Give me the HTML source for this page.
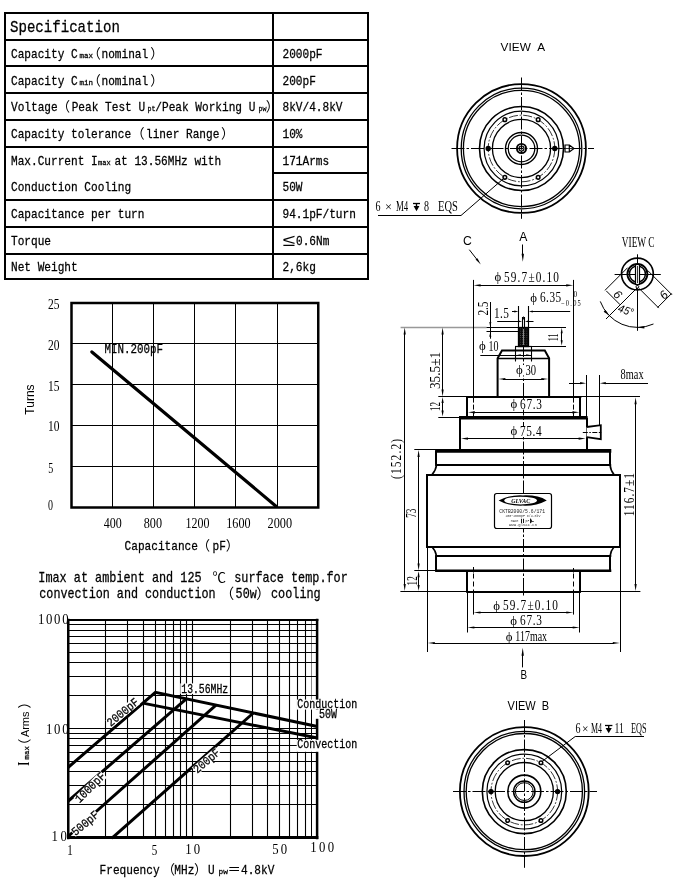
<!DOCTYPE html>
<html><head><meta charset="utf-8"><title>Specification</title>
<style>
html,body{margin:0;padding:0;background:#fff;}
svg{display:block;}
text{fill:#000;white-space:pre;}
.m{stroke:#000;stroke-width:0.28px;}
.m{font-family:"Liberation Mono","Noto Sans CJK SC",monospace;}
.k{font-family:"Liberation Sans","Noto Sans CJK SC",sans-serif;}
.s{font-family:"Liberation Serif","Noto Serif CJK SC",serif;}
.si{font-family:"Liberation Serif",serif;font-style:italic;font-weight:bold;}
.i{font-family:"Liberation Sans",sans-serif;font-style:italic;}
.a{font-family:"Liberation Sans",sans-serif;}
</style></head><body>
<svg width="700" height="885" viewBox="0 0 700 885" style="will-change:transform">

<g id="table">
<rect x="5" y="13" width="363" height="266" fill="none" stroke="#000" stroke-width="2" />
<line x1="5" y1="40" x2="368" y2="40" stroke="#000" stroke-width="2" />
<line x1="5" y1="66" x2="368" y2="66" stroke="#000" stroke-width="2" />
<line x1="5" y1="93" x2="368" y2="93" stroke="#000" stroke-width="2" />
<line x1="5" y1="120" x2="368" y2="120" stroke="#000" stroke-width="2" />
<line x1="5" y1="147" x2="368" y2="147" stroke="#000" stroke-width="2" />
<line x1="5" y1="200" x2="368" y2="200" stroke="#000" stroke-width="2" />
<line x1="5" y1="227" x2="368" y2="227" stroke="#000" stroke-width="2" />
<line x1="5" y1="254" x2="368" y2="254" stroke="#000" stroke-width="2" />
<line x1="273" y1="173" x2="368" y2="173" stroke="#000" stroke-width="2" />
<line x1="273" y1="13" x2="273" y2="279.2" stroke="#000" stroke-width="2" />
<text x="10" y="32" class="m" font-size="17" textLength="109.85" lengthAdjust="spacingAndGlyphs" >Specification</text>
<text x="11" y="58" class="m" font-size="13.33" textLength="66.7" lengthAdjust="spacingAndGlyphs" >Capacity C</text>
<text x="79.6" y="58" class="m" font-size="8" textLength="13.5" lengthAdjust="spacingAndGlyphs" >max</text>
<text x="87.44" y="58" class="k" font-size="13.33" >（</text>
<text x="101.5" y="58" class="m" font-size="13.33" textLength="46.69" lengthAdjust="spacingAndGlyphs" >nominal</text>
<text x="150.27" y="58" class="k" font-size="13.33" >）</text>
<text x="11" y="84.6" class="m" font-size="13.33" textLength="66.7" lengthAdjust="spacingAndGlyphs" >Capacity C</text>
<text x="79.6" y="84.6" class="m" font-size="8" textLength="13.5" lengthAdjust="spacingAndGlyphs" >min</text>
<text x="87.44" y="84.6" class="k" font-size="13.33" >（</text>
<text x="101.5" y="84.6" class="m" font-size="13.33" textLength="46.69" lengthAdjust="spacingAndGlyphs" >nominal</text>
<text x="150.27" y="84.6" class="k" font-size="13.33" >）</text>
<text x="11" y="111.2" class="m" font-size="13.33" textLength="46.69" lengthAdjust="spacingAndGlyphs" >Voltage</text>
<text x="56.74" y="111.2" class="k" font-size="13.33" >（</text>
<text x="71.7" y="111.2" class="m" font-size="13.33" textLength="73.37" lengthAdjust="spacingAndGlyphs" >Peak Test U</text>
<text x="147.5" y="111.2" class="m" font-size="8" textLength="8" lengthAdjust="spacingAndGlyphs" >pt</text>
<text x="155.3" y="111.2" class="m" font-size="13.33" textLength="100.05" lengthAdjust="spacingAndGlyphs" >/Peak Working U</text>
<text x="258.4" y="111.2" class="m" font-size="8" textLength="8" lengthAdjust="spacingAndGlyphs" >pw</text>
<text x="265.67" y="111.2" class="k" font-size="13.33" >）</text>
<text x="11" y="138" class="m" font-size="13.33" textLength="120.06" lengthAdjust="spacingAndGlyphs" >Capacity tolerance</text>
<text x="131.14" y="138" class="k" font-size="13.33" >（</text>
<text x="146" y="138" class="m" font-size="13.33" textLength="73.37" lengthAdjust="spacingAndGlyphs" >liner Range</text>
<text x="221.07" y="138" class="k" font-size="13.33" >）</text>
<text x="11" y="164.6" class="m" font-size="13.33" textLength="86.71" lengthAdjust="spacingAndGlyphs" >Max.Current I</text>
<text x="98" y="164.6" class="m" font-size="8" textLength="12.6" lengthAdjust="spacingAndGlyphs" >max</text>
<text x="114.4" y="164.6" class="m" font-size="13.33" textLength="106.72" lengthAdjust="spacingAndGlyphs" >at 13.56MHz with</text>
<text x="11" y="191.2" class="m" font-size="13.33" textLength="120.06" lengthAdjust="spacingAndGlyphs" >Conduction Cooling</text>
<text x="11" y="218" class="m" font-size="13.33" textLength="133.4" lengthAdjust="spacingAndGlyphs" >Capacitance per turn</text>
<text x="11" y="244.8" class="m" font-size="13.33" textLength="40.02" lengthAdjust="spacingAndGlyphs" >Torque</text>
<text x="11" y="271.4" class="m" font-size="13.33" textLength="66.7" lengthAdjust="spacingAndGlyphs" >Net Weight</text>
<text x="282.5" y="58" class="m" font-size="13.33" textLength="40.02" lengthAdjust="spacingAndGlyphs" >2000pF</text>
<text x="282.5" y="84.6" class="m" font-size="13.33" textLength="33.35" lengthAdjust="spacingAndGlyphs" >200pF</text>
<text x="282.5" y="111.2" class="m" font-size="13.33" textLength="60.03" lengthAdjust="spacingAndGlyphs" >8kV/4.8kV</text>
<text x="282.5" y="138" class="m" font-size="13.33" textLength="20.01" lengthAdjust="spacingAndGlyphs" >10%</text>
<text x="282.5" y="164.6" class="m" font-size="13.33" textLength="46.69" lengthAdjust="spacingAndGlyphs" >171Arms</text>
<text x="282.5" y="191.2" class="m" font-size="13.33" textLength="20.01" lengthAdjust="spacingAndGlyphs" >50W</text>
<text x="282.5" y="218" class="m" font-size="13.33" textLength="73.37" lengthAdjust="spacingAndGlyphs" >94.1pF/turn</text>
<text x="282.6" y="246" class="k" font-size="17" textLength="12.6" lengthAdjust="spacingAndGlyphs" >≤</text>
<text x="296" y="244.8" class="m" font-size="13.33" textLength="33.35" lengthAdjust="spacingAndGlyphs" >0.6Nm</text>
<text x="282.5" y="271.4" class="m" font-size="13.33" textLength="33.35" lengthAdjust="spacingAndGlyphs" >2,6kg</text>
</g>
<g id="chart1">
<line x1="112.5" y1="303" x2="112.5" y2="507.5" stroke="#000" stroke-width="1" />
<line x1="153.5" y1="303" x2="153.5" y2="507.5" stroke="#000" stroke-width="1" />
<line x1="194.5" y1="303" x2="194.5" y2="507.5" stroke="#000" stroke-width="1" />
<line x1="235.5" y1="303" x2="235.5" y2="507.5" stroke="#000" stroke-width="1" />
<line x1="277.5" y1="303" x2="277.5" y2="507.5" stroke="#000" stroke-width="1" />
<line x1="71.5" y1="343.5" x2="318.25" y2="343.5" stroke="#000" stroke-width="1" />
<line x1="71.5" y1="384.5" x2="318.25" y2="384.5" stroke="#000" stroke-width="1" />
<line x1="71.5" y1="425.5" x2="318.25" y2="425.5" stroke="#000" stroke-width="1" />
<line x1="71.5" y1="466.5" x2="318.25" y2="466.5" stroke="#000" stroke-width="1" />
<rect x="71.5" y="303" width="246.75" height="204.5" fill="none" stroke="#000" stroke-width="2.5" />
<line x1="91.9" y1="351.9" x2="276.3" y2="506.4" stroke="#000" stroke-width="3.2" stroke-linecap="round"/>
<text x="48" y="309.2" class="s" font-size="14" textLength="11.5" lengthAdjust="spacingAndGlyphs" >25</text>
<text x="48" y="349.7" class="s" font-size="14" textLength="11.5" lengthAdjust="spacingAndGlyphs" >20</text>
<text x="48" y="390.5" class="s" font-size="14" textLength="11.5" lengthAdjust="spacingAndGlyphs" >15</text>
<text x="48" y="431.2" class="s" font-size="14" textLength="11.5" lengthAdjust="spacingAndGlyphs" >10</text>
<text x="48.3" y="472.65" class="s" font-size="14" textLength="5" lengthAdjust="spacingAndGlyphs" >5</text>
<text x="48" y="510.1" class="s" font-size="14" textLength="5" lengthAdjust="spacingAndGlyphs" >0</text>
<text x="103.75" y="527.5" class="s" font-size="14" textLength="18" lengthAdjust="spacingAndGlyphs" >400</text>
<text x="143.75" y="527.5" class="s" font-size="14" textLength="18.25" lengthAdjust="spacingAndGlyphs" >800</text>
<text x="185.5" y="527.5" class="s" font-size="14" textLength="24" lengthAdjust="spacingAndGlyphs" >1200</text>
<text x="226.25" y="527.5" class="s" font-size="14" textLength="24.25" lengthAdjust="spacingAndGlyphs" >1600</text>
<text x="267.5" y="527.5" class="s" font-size="14" textLength="24.5" lengthAdjust="spacingAndGlyphs" >2000</text>
<text x="33.6" y="399.5" class="a" font-size="12" transform="rotate(-90 33.6 399.5)" text-anchor="middle" >Turns</text>
<text x="124.6" y="550" class="m" font-size="13.33" textLength="73.37" lengthAdjust="spacingAndGlyphs" >Capacitance</text>
<text x="196.74" y="550" class="k" font-size="13.33" >（</text>
<text x="212.5" y="550" class="m" font-size="13.33" textLength="13.34" lengthAdjust="spacingAndGlyphs" >pF</text>
<text x="225.67" y="550" class="k" font-size="13.33" >）</text>
<text x="104.6" y="353" class="m" font-size="13.33" textLength="58.5" lengthAdjust="spacingAndGlyphs" >MIN.200pF</text>
</g>
<text x="38.3" y="582.3" class="m" font-size="14.2" textLength="163.3" lengthAdjust="spacingAndGlyphs" >Imax at ambient and 125</text>
<text x="212.5" y="582.3" class="k" font-size="13.5" >℃</text>
<text x="234.2" y="582.3" class="m" font-size="14.2" textLength="113.6" lengthAdjust="spacingAndGlyphs" >surface temp.for</text>
<text x="39.3" y="597.6" class="m" font-size="14.2" textLength="176.25" lengthAdjust="spacingAndGlyphs" >convection and conduction</text>
<text x="220" y="597.6" class="k" font-size="14.2" >（</text>
<text x="235.6" y="597.6" class="m" font-size="14.2" textLength="21.15" lengthAdjust="spacingAndGlyphs" >50w</text>
<text x="256.31" y="597.6" class="k" font-size="14.2" >）</text>
<text x="271" y="597.6" class="m" font-size="14.2" textLength="49.7" lengthAdjust="spacingAndGlyphs" >cooling</text>
<g id="chart2">
<line x1="68.5" y1="619.75" x2="68.5" y2="837.75" stroke="#000" stroke-width="1.1" />
<line x1="105.5" y1="619.75" x2="105.5" y2="837.75" stroke="#000" stroke-width="1.1" />
<line x1="127.5" y1="619.75" x2="127.5" y2="837.75" stroke="#000" stroke-width="1.1" />
<line x1="143.5" y1="619.75" x2="143.5" y2="837.75" stroke="#000" stroke-width="1.1" />
<line x1="155.5" y1="619.75" x2="155.5" y2="837.75" stroke="#000" stroke-width="1.1" />
<line x1="165.5" y1="619.75" x2="165.5" y2="837.75" stroke="#000" stroke-width="1.1" />
<line x1="173.5" y1="619.75" x2="173.5" y2="837.75" stroke="#000" stroke-width="1.1" />
<line x1="180.5" y1="619.75" x2="180.5" y2="837.75" stroke="#000" stroke-width="1.1" />
<line x1="186.5" y1="619.75" x2="186.5" y2="837.75" stroke="#000" stroke-width="1.1" />
<line x1="192.5" y1="619.75" x2="192.5" y2="837.75" stroke="#000" stroke-width="1.1" />
<line x1="230.5" y1="619.75" x2="230.5" y2="837.75" stroke="#000" stroke-width="1.1" />
<line x1="252.5" y1="619.75" x2="252.5" y2="837.75" stroke="#000" stroke-width="1.1" />
<line x1="267.5" y1="619.75" x2="267.5" y2="837.75" stroke="#000" stroke-width="1.1" />
<line x1="279.5" y1="619.75" x2="279.5" y2="837.75" stroke="#000" stroke-width="1.1" />
<line x1="289.5" y1="619.75" x2="289.5" y2="837.75" stroke="#000" stroke-width="1.1" />
<line x1="297.5" y1="619.75" x2="297.5" y2="837.75" stroke="#000" stroke-width="1.1" />
<line x1="305.5" y1="619.75" x2="305.5" y2="837.75" stroke="#000" stroke-width="1.1" />
<line x1="311.5" y1="619.75" x2="311.5" y2="700" stroke="#888" stroke-width="1" />
<line x1="311.5" y1="700" x2="311.5" y2="837.75" stroke="#000" stroke-width="1" />
<line x1="68.25" y1="837.5" x2="317.1" y2="837.5" stroke="#000" stroke-width="1.1" />
<line x1="68.25" y1="804.5" x2="317.1" y2="804.5" stroke="#000" stroke-width="1.1" />
<line x1="68.25" y1="785.5" x2="317.1" y2="785.5" stroke="#000" stroke-width="1.1" />
<line x1="68.25" y1="771.5" x2="317.1" y2="771.5" stroke="#000" stroke-width="1.1" />
<line x1="68.25" y1="761.5" x2="317.1" y2="761.5" stroke="#000" stroke-width="1.1" />
<line x1="68.25" y1="752.5" x2="317.1" y2="752.5" stroke="#000" stroke-width="1.1" />
<line x1="68.25" y1="745.5" x2="317.1" y2="745.5" stroke="#000" stroke-width="1.1" />
<line x1="68.25" y1="738.5" x2="317.1" y2="738.5" stroke="#000" stroke-width="1.1" />
<line x1="68.25" y1="733.5" x2="317.1" y2="733.5" stroke="#000" stroke-width="1.1" />
<line x1="68.25" y1="728.5" x2="317.1" y2="728.5" stroke="#000" stroke-width="1.1" />
<line x1="68.25" y1="695.5" x2="317.1" y2="695.5" stroke="#000" stroke-width="1.1" />
<line x1="68.25" y1="676.5" x2="317.1" y2="676.5" stroke="#000" stroke-width="1.1" />
<line x1="68.25" y1="662.5" x2="317.1" y2="662.5" stroke="#000" stroke-width="1.1" />
<line x1="68.25" y1="652.5" x2="317.1" y2="652.5" stroke="#000" stroke-width="1.1" />
<line x1="68.25" y1="643.5" x2="317.1" y2="643.5" stroke="#000" stroke-width="1.1" />
<line x1="68.25" y1="636.5" x2="317.1" y2="636.5" stroke="#000" stroke-width="1.1" />
<line x1="68.25" y1="630.5" x2="317.1" y2="630.5" stroke="#000" stroke-width="1.1" />
<line x1="68.25" y1="624.5" x2="317.1" y2="624.5" stroke="#000" stroke-width="1.1" />
<line x1="68.25" y1="618.75" x2="68.25" y2="839.25" stroke="#000" stroke-width="2.5" />
<line x1="317.1" y1="618.75" x2="317.1" y2="839.25" stroke="#000" stroke-width="2.5" />
<line x1="67" y1="620" x2="318.35" y2="620" stroke="#000" stroke-width="2" />
<line x1="67" y1="837.5" x2="318.35" y2="837.5" stroke="#000" stroke-width="3" />
<clipPath id="c2"><rect x="67" y="618.75" width="251.35" height="220.5"/></clipPath>
<g clip-path="url(#c2)" fill="none" stroke="#000" stroke-width="3">
<polyline points="68,767.5 155.4,692.4 317.5,726.5"/>
<line x1="68" y1="801.25" x2="186.3" y2="698.9"/>
<line x1="68" y1="836.5" x2="216" y2="705.2"/>
<line x1="111.4" y1="838.7" x2="253.3" y2="713"/>
<line x1="142.9" y1="703.1" x2="317.5" y2="738"/>
</g>
<g><rect x="180.3" y="683.4" width="48.8" height="10.5" fill="#fff"/>
<text x="181.3" y="692.9" class="m" font-size="12" textLength="46.8" lengthAdjust="spacingAndGlyphs" >13.56MHz</text>
</g>
<g><rect x="296.7" y="699.6" width="60.5" height="10" fill="#fff"/>
<text x="297.2" y="708.1" class="m" font-size="12" textLength="60" lengthAdjust="spacingAndGlyphs" >Conduction</text>
</g>
<g><rect x="315" y="709.8" width="23" height="9" fill="#fff"/>
<text x="319" y="718.3" class="m" font-size="12" textLength="18" lengthAdjust="spacingAndGlyphs" >50W</text>
</g>
<g><rect x="296.7" y="739.8" width="60.5" height="12" fill="#fff"/>
<text x="297.2" y="748.3" class="m" font-size="12" textLength="60" lengthAdjust="spacingAndGlyphs" >Convection</text>
</g>
<g transform="rotate(-39.5 110.8 727)"><rect x="110.8" y="718.7" width="37.2" height="9.3" fill="#fff"/>
<text x="110.8" y="727" class="m" font-size="12" textLength="37.2" lengthAdjust="spacingAndGlyphs" >2000pF</text>
</g>
<g transform="rotate(-45 79.5 803.5)"><rect x="79.5" y="795.2" width="37.8" height="9.3" fill="#fff"/>
<text x="79.5" y="803.5" class="m" font-size="12" textLength="37.8" lengthAdjust="spacingAndGlyphs" >1000pF</text>
</g>
<g transform="rotate(-40 75.5 836.3)"><rect x="75.5" y="828" width="31.5" height="8.8" fill="#fff"/>
<text x="75.5" y="836.3" class="m" font-size="12" textLength="31.5" lengthAdjust="spacingAndGlyphs" >500pF</text>
</g>
<g transform="rotate(-40.6 197.3 773.8)"><rect x="197.3" y="765.5" width="31" height="9.3" fill="#fff"/>
<text x="197.3" y="773.8" class="m" font-size="12" textLength="31" lengthAdjust="spacingAndGlyphs" >200pF</text>
</g>
<text class="s" transform="translate(38 624.4) scale(0.85 1)" font-size="15" textLength="35.88" lengthAdjust="spacing" >1000</text>
<text class="s" transform="translate(46 734) scale(0.85 1)" font-size="15" textLength="26.59" lengthAdjust="spacing" >100</text>
<text class="s" transform="translate(51.5 841) scale(0.85 1)" font-size="15" textLength="18" lengthAdjust="spacing" >10</text>
<text x="67.3" y="854.6" class="s" font-size="14.5" textLength="5.5" lengthAdjust="spacingAndGlyphs" >1</text>
<text x="151.8" y="854.6" class="s" font-size="14.5" textLength="5.5" lengthAdjust="spacingAndGlyphs" >5</text>
<text class="s" transform="translate(185.2 854.2) scale(0.85 1)" font-size="15" textLength="17.65" lengthAdjust="spacing" >10</text>
<text class="s" transform="translate(272.3 854.2) scale(0.85 1)" font-size="15" textLength="17.41" lengthAdjust="spacing" >50</text>
<text class="s" transform="translate(310.3 851.8) scale(0.85 1)" font-size="15" textLength="28" lengthAdjust="spacing" >100</text>
<text x="99.6" y="873.5" class="m" font-size="13.33" textLength="60.03" lengthAdjust="spacingAndGlyphs" >Frequency</text>
<text x="161.74" y="873.5" class="k" font-size="13.33" >（</text>
<text x="174.3" y="873.5" class="m" font-size="13.33" textLength="20.01" lengthAdjust="spacingAndGlyphs" >MHz</text>
<text x="193.97" y="873.5" class="k" font-size="13.33" >）</text>
<text x="208" y="873.5" class="m" font-size="13.33" textLength="6.67" lengthAdjust="spacingAndGlyphs" >U</text>
<text x="218.6" y="873.5" class="m" font-size="8" textLength="9.4" lengthAdjust="spacingAndGlyphs" >pw</text>
<text x="227.6" y="873.6" class="k" font-size="13.33" >＝</text>
<text x="241" y="873.5" class="m" font-size="13.33" textLength="33.35" lengthAdjust="spacingAndGlyphs" >4.8kV</text>
<g transform="rotate(-90 28.9 766)">
<text x="28.9" y="766" class="s" font-size="16.5" textLength="4.5" lengthAdjust="spacingAndGlyphs" >I</text>
<text x="35.5" y="766" class="m" font-size="8" textLength="13.2" lengthAdjust="spacingAndGlyphs" >max</text>
<text x="42.94" y="766" class="k" font-size="13.33" >（</text>
<text x="57.8" y="766" class="a" font-size="11.5" textLength="25.5" lengthAdjust="spacingAndGlyphs" >Arms</text>
<text x="86.47" y="766" class="k" font-size="13.33" >）</text>
</g>
</g>
<text x="500.4" y="50.7" class="a" font-size="11.8" textLength="44.6" lengthAdjust="spacing" >VIEW  A</text>
<g id="viewA">
<circle cx="521.5" cy="148.5" r="64.4" fill="none" stroke="#000" stroke-width="1.8" />
<circle cx="521.5" cy="148.5" r="60.3" fill="none" stroke="#000" stroke-width="1.3" />
<circle cx="521.5" cy="148.5" r="58.1" fill="none" stroke="#000" stroke-width="1.3" />
<circle cx="521.5" cy="148.5" r="42" fill="none" stroke="#000" stroke-width="1.6" />
<circle cx="521.5" cy="148.5" r="37.4" fill="none" stroke="#000" stroke-width="1.2" />
<circle cx="521.5" cy="148.5" r="33.3" fill="none" stroke="#000" stroke-width="0.8" stroke-dasharray="9 1.8 1.8 1.8"/>
<circle cx="521.5" cy="148.5" r="29.1" fill="none" stroke="#000" stroke-width="1.3" />
<circle cx="521.5" cy="148.5" r="16" fill="none" stroke="#000" stroke-width="1.4" />
<circle cx="521.5" cy="148.5" r="13.3" fill="none" stroke="#000" stroke-width="1.3" />
<circle cx="521.5" cy="148.5" r="4.6" fill="none" stroke="#000" stroke-width="1.9" />
<circle cx="521.5" cy="148.5" r="2.5" fill="none" stroke="#000" stroke-width="1.2" />
<circle cx="521.5" cy="148.5" r="0.9" fill="#000" stroke="#000" stroke-width="0.8" />
<circle cx="554.8" cy="148.5" r="2" fill="#000" stroke="#000" stroke-width="1.4" />
<circle cx="538.15" cy="177.34" r="1.8" fill="#fff" stroke="#000" stroke-width="1.5" />
<circle cx="504.85" cy="177.34" r="1.8" fill="#fff" stroke="#000" stroke-width="1.5" />
<circle cx="488.2" cy="148.5" r="2" fill="#000" stroke="#000" stroke-width="1.4" />
<circle cx="504.85" cy="119.66" r="1.8" fill="#fff" stroke="#000" stroke-width="1.5" />
<circle cx="538.15" cy="119.66" r="1.8" fill="#fff" stroke="#000" stroke-width="1.5" />
</g>
<line x1="451.5" y1="148.5" x2="594" y2="148.5" stroke="#000" stroke-width="1" stroke-dasharray="13 2 2.5 2"/>
<line x1="521.5" y1="77.5" x2="521.5" y2="218.8" stroke="#000" stroke-width="1" stroke-dasharray="13 2 2.5 2"/>
<path d="M565,145 H569.3 V152 H565 Z M569.3,145 L574,148.5 L569.3,152" fill="#fff" stroke="#000" stroke-width="1.2" stroke-linejoin="miter"/>
<line x1="561" y1="148.5" x2="576" y2="148.5" stroke="#000" stroke-width="0.8" />
<polyline points="378,215.5 461,215.5 504.2,178" fill="none" stroke="#000" stroke-width="1"/>
<text x="375.4" y="211" class="s" font-size="14.5" textLength="5" lengthAdjust="spacingAndGlyphs" >6</text>
<text x="385" y="210.6" class="s" font-size="12" textLength="7" lengthAdjust="spacingAndGlyphs" >×</text>
<text x="396" y="211" class="s" font-size="14.5" textLength="12.2" lengthAdjust="spacingAndGlyphs" >M4</text>
<line x1="413" y1="203.5" x2="420" y2="203.5" stroke="#000" stroke-width="1.3" />
<line x1="416.5" y1="203.4" x2="416.5" y2="209" stroke="#000" stroke-width="1.4" />
<polygon points="413.6,206 419.4,206 416.5,211.3" fill="#000"/>
<text x="424" y="211" class="s" font-size="14.5" textLength="5" lengthAdjust="spacingAndGlyphs" >8</text>
<text x="438" y="211" class="s" font-size="14.5" textLength="19.8" lengthAdjust="spacingAndGlyphs" >EQS</text>
<text x="519.3" y="240.6" class="a" font-size="12.2" >A</text>
<line x1="522.5" y1="244.5" x2="522.5" y2="256" stroke="#000" stroke-width="1" />
<polygon points="522.8,261.8 521.6,253.8 524,253.8" fill="#000"/>
<text x="463" y="245.2" class="a" font-size="12.2" >C</text>
<line x1="469.3" y1="249.7" x2="477.5" y2="260.2" stroke="#000" stroke-width="1" />
<polygon points="480.8,264.4 475.54,259.62 477.44,258.15" fill="#000"/>
<text x="520.4" y="679.3" class="a" font-size="12.8" textLength="6.6" lengthAdjust="spacingAndGlyphs" >B</text>
<line x1="522.5" y1="667.4" x2="522.5" y2="654" stroke="#000" stroke-width="1" />
<polygon points="522.7,647.8 523.9,655.8 521.5,655.8" fill="#000"/>
<text x="507.6" y="709.7" class="a" font-size="13" textLength="41.6" lengthAdjust="spacingAndGlyphs" >VIEW  B</text>
<g id="viewB">
<circle cx="524.3" cy="791.6" r="64.4" fill="none" stroke="#000" stroke-width="1.8" />
<circle cx="524.3" cy="791.6" r="60.3" fill="none" stroke="#000" stroke-width="1.3" />
<circle cx="524.3" cy="791.6" r="58.1" fill="none" stroke="#000" stroke-width="1.3" />
<circle cx="524.3" cy="791.6" r="42" fill="none" stroke="#000" stroke-width="1.6" />
<circle cx="524.3" cy="791.6" r="37.4" fill="none" stroke="#000" stroke-width="1.2" />
<circle cx="524.3" cy="791.6" r="33.3" fill="none" stroke="#000" stroke-width="0.8" stroke-dasharray="9 1.8 1.8 1.8"/>
<circle cx="524.3" cy="791.6" r="29.1" fill="none" stroke="#000" stroke-width="1.3" />
<circle cx="524.3" cy="791.6" r="16.5" fill="none" stroke="#000" stroke-width="1.6" />
<circle cx="524.3" cy="791.6" r="10.7" fill="none" stroke="#000" stroke-width="1.5" />
<circle cx="524.3" cy="791.6" r="8.9" fill="none" stroke="#000" stroke-width="1" />
<circle cx="557.6" cy="791.6" r="2" fill="#000" stroke="#000" stroke-width="1.4" />
<circle cx="540.95" cy="820.44" r="1.8" fill="#fff" stroke="#000" stroke-width="1.5" />
<circle cx="507.65" cy="820.44" r="1.8" fill="#fff" stroke="#000" stroke-width="1.5" />
<circle cx="491" cy="791.6" r="2" fill="#000" stroke="#000" stroke-width="1.4" />
<circle cx="507.65" cy="762.76" r="1.8" fill="#fff" stroke="#000" stroke-width="1.5" />
<circle cx="540.95" cy="762.76" r="1.8" fill="#fff" stroke="#000" stroke-width="1.5" />
</g>
<line x1="453" y1="791.5" x2="597" y2="791.5" stroke="#000" stroke-width="1" stroke-dasharray="13 2 2.5 2"/>
<line x1="524.5" y1="720" x2="524.5" y2="867.8" stroke="#000" stroke-width="1" stroke-dasharray="13 2 2.5 2"/>
<polyline points="542,761.5 575.2,736.5 644,736.5" fill="none" stroke="#000" stroke-width="1"/>
<text x="575.4" y="733" class="s" font-size="14.5" textLength="5" lengthAdjust="spacingAndGlyphs" >6</text>
<text x="582" y="732.6" class="s" font-size="12" textLength="6.5" lengthAdjust="spacingAndGlyphs" >×</text>
<text x="591" y="733" class="s" font-size="14.5" textLength="11" lengthAdjust="spacingAndGlyphs" >M4</text>
<line x1="605" y1="725.5" x2="612.4" y2="725.5" stroke="#000" stroke-width="1.3" />
<line x1="608.7" y1="725.4" x2="608.7" y2="731" stroke="#000" stroke-width="1.4" />
<polygon points="605.6,728 611.8,728 608.7,733.3" fill="#000"/>
<text x="614.4" y="733" class="s" font-size="14.5" textLength="9.4" lengthAdjust="spacingAndGlyphs" >11</text>
<text x="631" y="733" class="s" font-size="14.5" textLength="15.6" lengthAdjust="spacingAndGlyphs" >EQS</text>
<g id="viewC">
<text x="621.8" y="246.5" class="s" font-size="14" textLength="32.8" lengthAdjust="spacingAndGlyphs" >VIEW C</text>
<line x1="614.6" y1="274.5" x2="660.8" y2="274.5" stroke="#000" stroke-width="1" />
<line x1="637.5" y1="254.3" x2="637.5" y2="330.8" stroke="#000" stroke-width="1" />
<circle cx="637.4" cy="274" r="15.9" fill="none" stroke="#000" stroke-width="1.7" />
<circle cx="637.4" cy="274" r="10" fill="none" stroke="#000" stroke-width="1.8" />
<circle cx="637.4" cy="274" r="8" fill="none" stroke="#000" stroke-width="1.5" />
<rect x="635.5" y="264.5" width="4" height="20" fill="#fff" stroke="#000" stroke-width="1.2" />
<line x1="637.5" y1="266" x2="637.5" y2="283" stroke="#000" stroke-width="0.8" />
<circle cx="637.4" cy="286.8" r="1.4" fill="#fff" stroke="#000" stroke-width="1" />
<line x1="637.1" y1="287.9" x2="606" y2="319" stroke="#000" stroke-width="1" />
<line x1="627.6" y1="267.7" x2="605" y2="290.3" stroke="#000" stroke-width="1" />
<line x1="606.2" y1="290.8" x2="620.2" y2="304.8" stroke="#000" stroke-width="1" />
<line x1="639" y1="288.3" x2="658.8" y2="308.1" stroke="#000" stroke-width="1" />
<line x1="647.6" y1="270.4" x2="672" y2="294.8" stroke="#000" stroke-width="1" />
<line x1="657.6" y1="307.5" x2="671.6" y2="293.5" stroke="#000" stroke-width="1" />
<text x="614.9" y="297.3" class="i" font-size="12" transform="rotate(45 614.9 297.3)" text-anchor="middle" >6</text>
<text x="666.6" y="298" class="i" font-size="12" transform="rotate(-45 666.6 298)" text-anchor="middle" >6</text>
<path d="M600.28,301.41 A39.5,39.5 0 0 0 653.47,323.99" fill="none" stroke="#000" stroke-width="1"/>
<polygon points="609.47,315.83 603.67,311.73 605.37,310.03" fill="#000"/>
<polygon points="637.4,327.4 644.4,326.2 644.4,328.6" fill="#000"/>
<text x="617.3" y="311.2" class="i" font-size="11" textLength="15.5" lengthAdjust="spacingAndGlyphs" transform="rotate(20 617.3 311.2)" >45°</text>
</g>
<g id="front">
<line x1="400.6" y1="327.5" x2="486.5" y2="327.5" stroke="#999" stroke-width="1.3" />
<line x1="404.5" y1="333" x2="404.5" y2="586" stroke="#000" stroke-width="1" />
<polygon points="404.7,327.6 405.8,334.6 403.6,334.6" fill="#000"/>
<polygon points="404.7,591 403.6,584 405.8,584" fill="#000"/>
<line x1="442.5" y1="333" x2="442.5" y2="392" stroke="#000" stroke-width="1" />
<polygon points="442.6,327.6 443.7,334.6 441.5,334.6" fill="#000"/>
<polygon points="442.6,396.4 441.5,389.4 443.7,389.4" fill="#000"/>
<line x1="442.5" y1="401" x2="442.5" y2="412" stroke="#000" stroke-width="1" />
<polygon points="442.6,397 443.7,403 441.5,403" fill="#000"/>
<polygon points="442.6,416.6 441.5,410.6 443.7,410.6" fill="#000"/>
<line x1="438.3" y1="396.5" x2="467" y2="396.5" stroke="#000" stroke-width="1" />
<line x1="438.3" y1="417.5" x2="460.5" y2="417.5" stroke="#000" stroke-width="1" />
<text x="440" y="389" class="s" font-size="14.5" textLength="37" lengthAdjust="spacingAndGlyphs" transform="rotate(-90 440 389)" >35.5±1</text>
<text x="440" y="411" class="s" font-size="14.5" textLength="9" lengthAdjust="spacingAndGlyphs" transform="rotate(-90 440 411)" >12</text>
<text class="s" transform="translate(401.4 479) rotate(-90) scale(0.78 1)" font-size="14.5" textLength="51.28" lengthAdjust="spacing" >(152.2)</text>
<line x1="414.3" y1="449.5" x2="436" y2="449.5" stroke="#000" stroke-width="1" />
<line x1="414.3" y1="570.5" x2="436" y2="570.5" stroke="#000" stroke-width="1" />
<line x1="418.5" y1="455" x2="418.5" y2="566" stroke="#000" stroke-width="1" />
<polygon points="418.6,450 419.7,457 417.5,457" fill="#000"/>
<polygon points="418.6,570.5 417.5,563.5 419.7,563.5" fill="#000"/>
<text x="416.2" y="517.8" class="s" font-size="14.5" textLength="9.2" lengthAdjust="spacingAndGlyphs" transform="rotate(-90 416.2 517.8)" >73</text>
<line x1="418.5" y1="576" x2="418.5" y2="586" stroke="#000" stroke-width="1" />
<polygon points="418.6,571.3 419.7,577.3 417.5,577.3" fill="#000"/>
<polygon points="418.6,591 417.5,585 419.7,585" fill="#000"/>
<text x="416.6" y="585.4" class="s" font-size="14.5" textLength="9.2" lengthAdjust="spacingAndGlyphs" transform="rotate(-90 416.6 585.4)" >12</text>
<line x1="400.4" y1="591.5" x2="467" y2="591.5" stroke="#000" stroke-width="1" />
<line x1="473.5" y1="279.9" x2="473.5" y2="396.6" stroke="#000" stroke-width="1" />
<line x1="573.5" y1="279.9" x2="573.5" y2="396.6" stroke="#000" stroke-width="1" />
<line x1="479" y1="285.5" x2="568" y2="285.5" stroke="#000" stroke-width="1" />
<polygon points="473.6,285.3 480.6,284.2 480.6,286.4" fill="#000"/>
<polygon points="573.2,285.3 566.2,286.4 566.2,284.2" fill="#000"/>
<text x="494.5" y="280.7" class="s" font-size="12.8" >ϕ</text>
<text class="s" transform="translate(504 281.5) scale(0.78 1)" font-size="14.5" textLength="70.51" lengthAdjust="spacing" >59.7±0.10</text>
<text x="530.3" y="301.5" class="s" font-size="12.8" >ϕ</text>
<text class="s" transform="translate(540 302.3) scale(0.78 1)" font-size="14.5" textLength="27.18" lengthAdjust="spacing" >6.35</text>
<text x="573.6" y="296.5" class="s" font-size="8" textLength="3.6" lengthAdjust="spacingAndGlyphs" >0</text>
<text class="s" transform="translate(561 305.7) scale(0.8 1)" font-size="8" textLength="24.75" lengthAdjust="spacing" >−0.05</text>
<line x1="518.5" y1="306" x2="518.5" y2="327.5" stroke="#000" stroke-width="1.1" />
<line x1="528.5" y1="306" x2="528.5" y2="327.5" stroke="#000" stroke-width="1.1" />
<line x1="512" y1="311.5" x2="516" y2="311.5" stroke="#000" stroke-width="1" />
<polygon points="518.3,311.5 514.3,312.4 514.3,310.6" fill="#000"/>
<line x1="531" y1="311.5" x2="570.2" y2="311.5" stroke="#000" stroke-width="1" />
<polygon points="528.8,311.5 532.8,310.6 532.8,312.4" fill="#000"/>
<line x1="490.5" y1="302" x2="490.5" y2="338.7" stroke="#000" stroke-width="1" />
<polygon points="490.3,327 489.3,322 491.3,322" fill="#000"/>
<polygon points="490.3,331.7 491.3,336.7 489.3,336.7" fill="#000"/>
<text class="s" transform="translate(488.4 315.5) rotate(-90) scale(0.78 1)" font-size="14.5" textLength="17.95" lengthAdjust="spacing" >2.5</text>
<text class="s" transform="translate(494 318.3) scale(0.78 1)" font-size="14.5" textLength="19.23" lengthAdjust="spacing" >1.5</text>
<line x1="497.2" y1="321.5" x2="520" y2="321.5" stroke="#000" stroke-width="1" />
<polygon points="522.1,321.4 518.6,322.3 518.6,320.5" fill="#000"/>
<line x1="527" y1="321.5" x2="533.5" y2="321.5" stroke="#000" stroke-width="1" />
<polygon points="524.9,321.4 528.4,320.5 528.4,322.3" fill="#000"/>
<line x1="486.5" y1="327.5" x2="566" y2="327.5" stroke="#000" stroke-width="1.2" />
<line x1="486.5" y1="331.5" x2="518.5" y2="331.5" stroke="#000" stroke-width="1.1" />
<line x1="529" y1="346.5" x2="566" y2="346.5" stroke="#000" stroke-width="1" />
<line x1="522.5" y1="317" x2="522.5" y2="331" stroke="#000" stroke-width="1.1" />
<line x1="524.5" y1="317" x2="524.5" y2="331" stroke="#000" stroke-width="1.1" />
<defs><pattern id="h" width="2.2" height="2.2" patternUnits="userSpaceOnUse"><rect width="2.2" height="2.2" fill="#0a0a0a"/><circle cx="1.1" cy="1.1" r="0.3" fill="#bbb"/></pattern></defs>
<rect x="518.5" y="327.5" width="10" height="19" fill="url(#h)" stroke="#000" stroke-width="1.3" />
<line x1="523.5" y1="329" x2="523.5" y2="345" stroke="#bbb" stroke-width="0.7" />
<line x1="561.5" y1="332" x2="561.5" y2="341" stroke="#000" stroke-width="1" />
<polygon points="561.7,327.8 562.7,333.3 560.7,333.3" fill="#000"/>
<polygon points="561.7,345.8 560.7,340.3 562.7,340.3" fill="#000"/>
<text x="558.2" y="341.2" class="s" font-size="14.5" textLength="7.6" lengthAdjust="spacingAndGlyphs" transform="rotate(-90 558.2 341.2)" >11</text>
<line x1="515" y1="346.5" x2="531.7" y2="346.5" stroke="#000" stroke-width="1.2" />
<line x1="515.5" y1="346.6" x2="515.5" y2="361.5" stroke="#000" stroke-width="1.1" />
<line x1="531.5" y1="346.6" x2="531.5" y2="361.5" stroke="#000" stroke-width="1.1" />
<line x1="480.3" y1="355.5" x2="531.5" y2="355.5" stroke="#000" stroke-width="1" />
<polygon points="515.8,355.2 520.8,354.3 520.8,356.1" fill="#000"/>
<polygon points="531.2,355.2 526.2,356.1 526.2,354.3" fill="#000"/>
<text x="479" y="350.4" class="s" font-size="12.8" >ϕ</text>
<text x="488.5" y="351.2" class="s" font-size="14.5" textLength="10" lengthAdjust="spacingAndGlyphs" >10</text>
<path d="M497.6,396.5 V358.3 L502,350.4 H544.8 L549.1,358.3 V396.5" fill="none" stroke="#000" stroke-width="2"/>
<line x1="497.6" y1="358.5" x2="549.1" y2="358.5" stroke="#000" stroke-width="1.3" />
<line x1="503" y1="379.5" x2="544" y2="379.5" stroke="#000" stroke-width="1" />
<polygon points="498.4,379 505.4,377.9 505.4,380.1" fill="#000"/>
<polygon points="548.3,379 541.3,380.1 541.3,377.9" fill="#000"/>
<line x1="523.5" y1="347" x2="523.5" y2="595.5" stroke="#000" stroke-width="1" stroke-dasharray="13 2 2.5 2" stroke-dashoffset="3"/>
<line x1="523.5" y1="316.5" x2="523.5" y2="319.5" stroke="#000" stroke-width="0.9" />
<rect x="515.5" y="365" width="21.5" height="10.4" fill="#fff" stroke="none" stroke-width="0" />
<text x="515.9" y="373.9" class="s" font-size="12.8" >ϕ</text>
<text x="525.4" y="374.7" class="s" font-size="14.5" textLength="10.6" lengthAdjust="spacingAndGlyphs" >30</text>
<rect x="510" y="399.6" width="33" height="10" fill="#fff" stroke="none" stroke-width="0" />
<rect x="510" y="426.2" width="33" height="10" fill="#fff" stroke="none" stroke-width="0" />
<line x1="466" y1="397" x2="581.3" y2="397" stroke="#000" stroke-width="2" />
<line x1="467" y1="396.6" x2="467" y2="417" stroke="#000" stroke-width="2" />
<line x1="580" y1="396.6" x2="580" y2="417" stroke="#000" stroke-width="2" />
<text x="510.5" y="408.2" class="s" font-size="12.8" >ϕ</text>
<text class="s" transform="translate(520 409) scale(0.78 1)" font-size="14.5" textLength="28.21" lengthAdjust="spacing" >67.3</text>
<line x1="473" y1="412.5" x2="574" y2="412.5" stroke="#000" stroke-width="1" />
<polygon points="468,412.3 475,411.2 475,413.4" fill="#000"/>
<polygon points="579.4,412.3 572.4,413.4 572.4,411.2" fill="#000"/>
<line x1="473.5" y1="397.6" x2="473.5" y2="416" stroke="#000" stroke-width="1" stroke-dasharray="5 2"/>
<line x1="573.5" y1="397.6" x2="573.5" y2="416" stroke="#000" stroke-width="1" stroke-dasharray="5 2"/>
<line x1="459" y1="417.7" x2="587.6" y2="417.7" stroke="#000" stroke-width="3.4" />
<line x1="460" y1="417.7" x2="460" y2="450" stroke="#000" stroke-width="2" />
<line x1="587" y1="417.7" x2="587" y2="450" stroke="#000" stroke-width="2" />
<text x="510.5" y="434.8" class="s" font-size="12.8" >ϕ</text>
<text class="s" transform="translate(520 435.6) scale(0.78 1)" font-size="14.5" textLength="27.69" lengthAdjust="spacing" >75.4</text>
<line x1="466" y1="438.5" x2="581" y2="438.5" stroke="#000" stroke-width="1" />
<polygon points="461,438.6 468,437.5 468,439.7" fill="#000"/>
<polygon points="585.6,438.6 578.6,439.7 578.6,437.5" fill="#000"/>
<path d="M586.6,427 L600.8,425.2 V439.2 L586.6,437.2" fill="#fff" stroke="#000" stroke-width="1.8"/>
<line x1="582.8" y1="432.5" x2="602" y2="432.5" stroke="#000" stroke-width="1" stroke-dasharray="5 1.5 1.5 1.5"/>
<line x1="586.5" y1="375" x2="586.5" y2="417" stroke="#000" stroke-width="1" />
<line x1="599.5" y1="375" x2="599.5" y2="425" stroke="#000" stroke-width="1" />
<line x1="569" y1="383.5" x2="581" y2="383.5" stroke="#000" stroke-width="1" />
<polygon points="586.1,383.2 580.1,384.3 580.1,382.1" fill="#000"/>
<line x1="605" y1="383.5" x2="648" y2="383.5" stroke="#000" stroke-width="1" />
<polygon points="599.8,383.2 605.8,382.1 605.8,384.3" fill="#000"/>
<text x="620.6" y="378.5" class="s" font-size="14.5" textLength="23" lengthAdjust="spacingAndGlyphs" >8max</text>
<line x1="581" y1="396.5" x2="640" y2="396.5" stroke="#000" stroke-width="1" />
<line x1="579.9" y1="591.5" x2="640.4" y2="591.5" stroke="#000" stroke-width="1" />
<line x1="635.5" y1="403" x2="635.5" y2="585" stroke="#000" stroke-width="1" />
<polygon points="635.6,397.2 636.7,404.2 634.5,404.2" fill="#000"/>
<polygon points="635.6,591.1 634.5,584.1 636.7,584.1" fill="#000"/>
<text class="s" transform="translate(634.2 516.2) rotate(-90) scale(0.78 1)" font-size="14.5" textLength="55.13" lengthAdjust="spacing" >116.7±1</text>
<line x1="435.1" y1="450.9" x2="611.3" y2="450.9" stroke="#000" stroke-width="3.6" />
<line x1="436" y1="450.9" x2="436" y2="464.6" stroke="#000" stroke-width="2" />
<line x1="610" y1="450.9" x2="610" y2="464.6" stroke="#000" stroke-width="2" />
<line x1="435.1" y1="465" x2="611.2" y2="465" stroke="#000" stroke-width="2" />
<path d="M436.6,464.6 Q435.8,470.5 432,474.6 M610,464.6 Q610.6,470.5 614,474.6 M432,547 Q435.6,550.5 436.4,555.7 M614,547 Q610.8,550.5 610.2,555.7" fill="none" stroke="#000" stroke-width="1.6"/>
<rect x="427" y="475" width="193" height="72" fill="none" stroke="#000" stroke-width="2" />
<line x1="435.1" y1="556" x2="611.3" y2="556" stroke="#000" stroke-width="2" />
<line x1="436" y1="555.7" x2="436" y2="571" stroke="#000" stroke-width="2" />
<line x1="610" y1="555.7" x2="610" y2="571" stroke="#000" stroke-width="2" />
<line x1="435.1" y1="570.8" x2="611.3" y2="570.8" stroke="#000" stroke-width="2.4" />
<line x1="467" y1="570.8" x2="467" y2="591.5" stroke="#000" stroke-width="2" />
<line x1="580" y1="570.8" x2="580" y2="591.5" stroke="#000" stroke-width="2" />
<line x1="466.2" y1="592" x2="580.9" y2="592" stroke="#000" stroke-width="2" />
<line x1="467.5" y1="591.5" x2="467.5" y2="632.5" stroke="#000" stroke-width="1" />
<line x1="579.5" y1="591.5" x2="579.5" y2="632.5" stroke="#000" stroke-width="1" />
<line x1="473.5" y1="567" x2="473.5" y2="614.6" stroke="#000" stroke-width="1" />
<line x1="573.5" y1="568" x2="573.5" y2="614.6" stroke="#000" stroke-width="1" />
<line x1="473.3" y1="572.5" x2="473.3" y2="590" stroke="#fff" stroke-width="1.6" stroke-dasharray="3 5" stroke-dashoffset="-6"/>
<line x1="573.5" y1="572.5" x2="573.5" y2="590" stroke="#fff" stroke-width="1.6" stroke-dasharray="3 5" stroke-dashoffset="-6"/>
<line x1="479" y1="612.5" x2="568" y2="612.5" stroke="#000" stroke-width="1" />
<polygon points="473.5,612.5 480.5,611.4 480.5,613.6" fill="#000"/>
<polygon points="573.3,612.5 566.3,613.6 566.3,611.4" fill="#000"/>
<text x="493.2" y="609.6" class="s" font-size="12.8" >ϕ</text>
<text class="s" transform="translate(503 610.4) scale(0.78 1)" font-size="14.5" textLength="70.51" lengthAdjust="spacing" >59.7±0.10</text>
<line x1="473" y1="627.5" x2="574" y2="627.5" stroke="#000" stroke-width="1" />
<polygon points="467.4,627.5 474.4,626.4 474.4,628.6" fill="#000"/>
<polygon points="579.7,627.5 572.7,628.6 572.7,626.4" fill="#000"/>
<text x="510.3" y="624.6" class="s" font-size="12.8" >ϕ</text>
<text class="s" transform="translate(520 625.4) scale(0.78 1)" font-size="14.5" textLength="28.21" lengthAdjust="spacing" >67.3</text>
<line x1="427.5" y1="547" x2="427.5" y2="652" stroke="#000" stroke-width="1" />
<line x1="620.5" y1="547" x2="620.5" y2="652" stroke="#000" stroke-width="1" />
<line x1="433" y1="643.5" x2="614" y2="643.5" stroke="#000" stroke-width="1" />
<polygon points="427.8,643 434.8,641.9 434.8,644.1" fill="#000"/>
<polygon points="619.8,643 612.8,644.1 612.8,641.9" fill="#000"/>
<text x="505.7" y="640.6" class="s" font-size="12.8" >ϕ</text>
<text x="515.3" y="641.4" class="s" font-size="14.5" textLength="31.8" lengthAdjust="spacingAndGlyphs" >117max</text>
<rect x="494.5" y="493.5" width="57" height="35" fill="#fff" stroke="#000" stroke-width="1.2" rx="2.2"/>
<path d="M498.6,500.5 Q510,494.6 523,495.4 Q538,494.8 546.8,500.4 Q536,506.2 522.6,505.6 Q508,506 498.6,500.5 Z" fill="#000"/>
<ellipse cx="520.6" cy="500.6" rx="16.4" ry="3.9" fill="#fff"/>
<text x="511.2" y="502.6" class="si" font-size="5.4" textLength="19" lengthAdjust="spacingAndGlyphs" >GLVAC</text>
<text x="499.3" y="512.5" class="m" font-size="5.6" textLength="45.8" lengthAdjust="spacingAndGlyphs" style="stroke:none;fill:#222">CKTB2000/5.6/171</text>
<text x="505.4" y="517.1" class="m" font-size="3.6" textLength="35" lengthAdjust="spacingAndGlyphs" style="stroke:none;fill:#333">200~2000pF 8/4.8kV</text>
<text x="510.8" y="522.2" class="m" font-size="3.4" textLength="7.5" lengthAdjust="spacingAndGlyphs" style="stroke:none;fill:#333">MADE</text>
<line x1="521.5" y1="518.8" x2="521.5" y2="523" stroke="#000" stroke-width="0.9" />
<line x1="523.5" y1="518.8" x2="523.5" y2="523" stroke="#000" stroke-width="0.9" />
<text x="525.6" y="522.2" class="m" font-size="3.4" textLength="3.6" lengthAdjust="spacingAndGlyphs" style="stroke:none;fill:#333">pF</text>
<line x1="530.5" y1="518.6" x2="530.5" y2="523.2" stroke="#000" stroke-width="0.9" />
<line x1="531.5" y1="519.6" x2="531.5" y2="522.4" stroke="#000" stroke-width="0.8" />
<line x1="531.8" y1="521.5" x2="533.8" y2="521.5" stroke="#000" stroke-width="0.7" />
<text x="509" y="526.2" class="m" font-size="3.6" textLength="28" lengthAdjust="spacingAndGlyphs" style="stroke:none;fill:#333">www.glvac.cn</text>
</g>
</svg>
</body></html>
